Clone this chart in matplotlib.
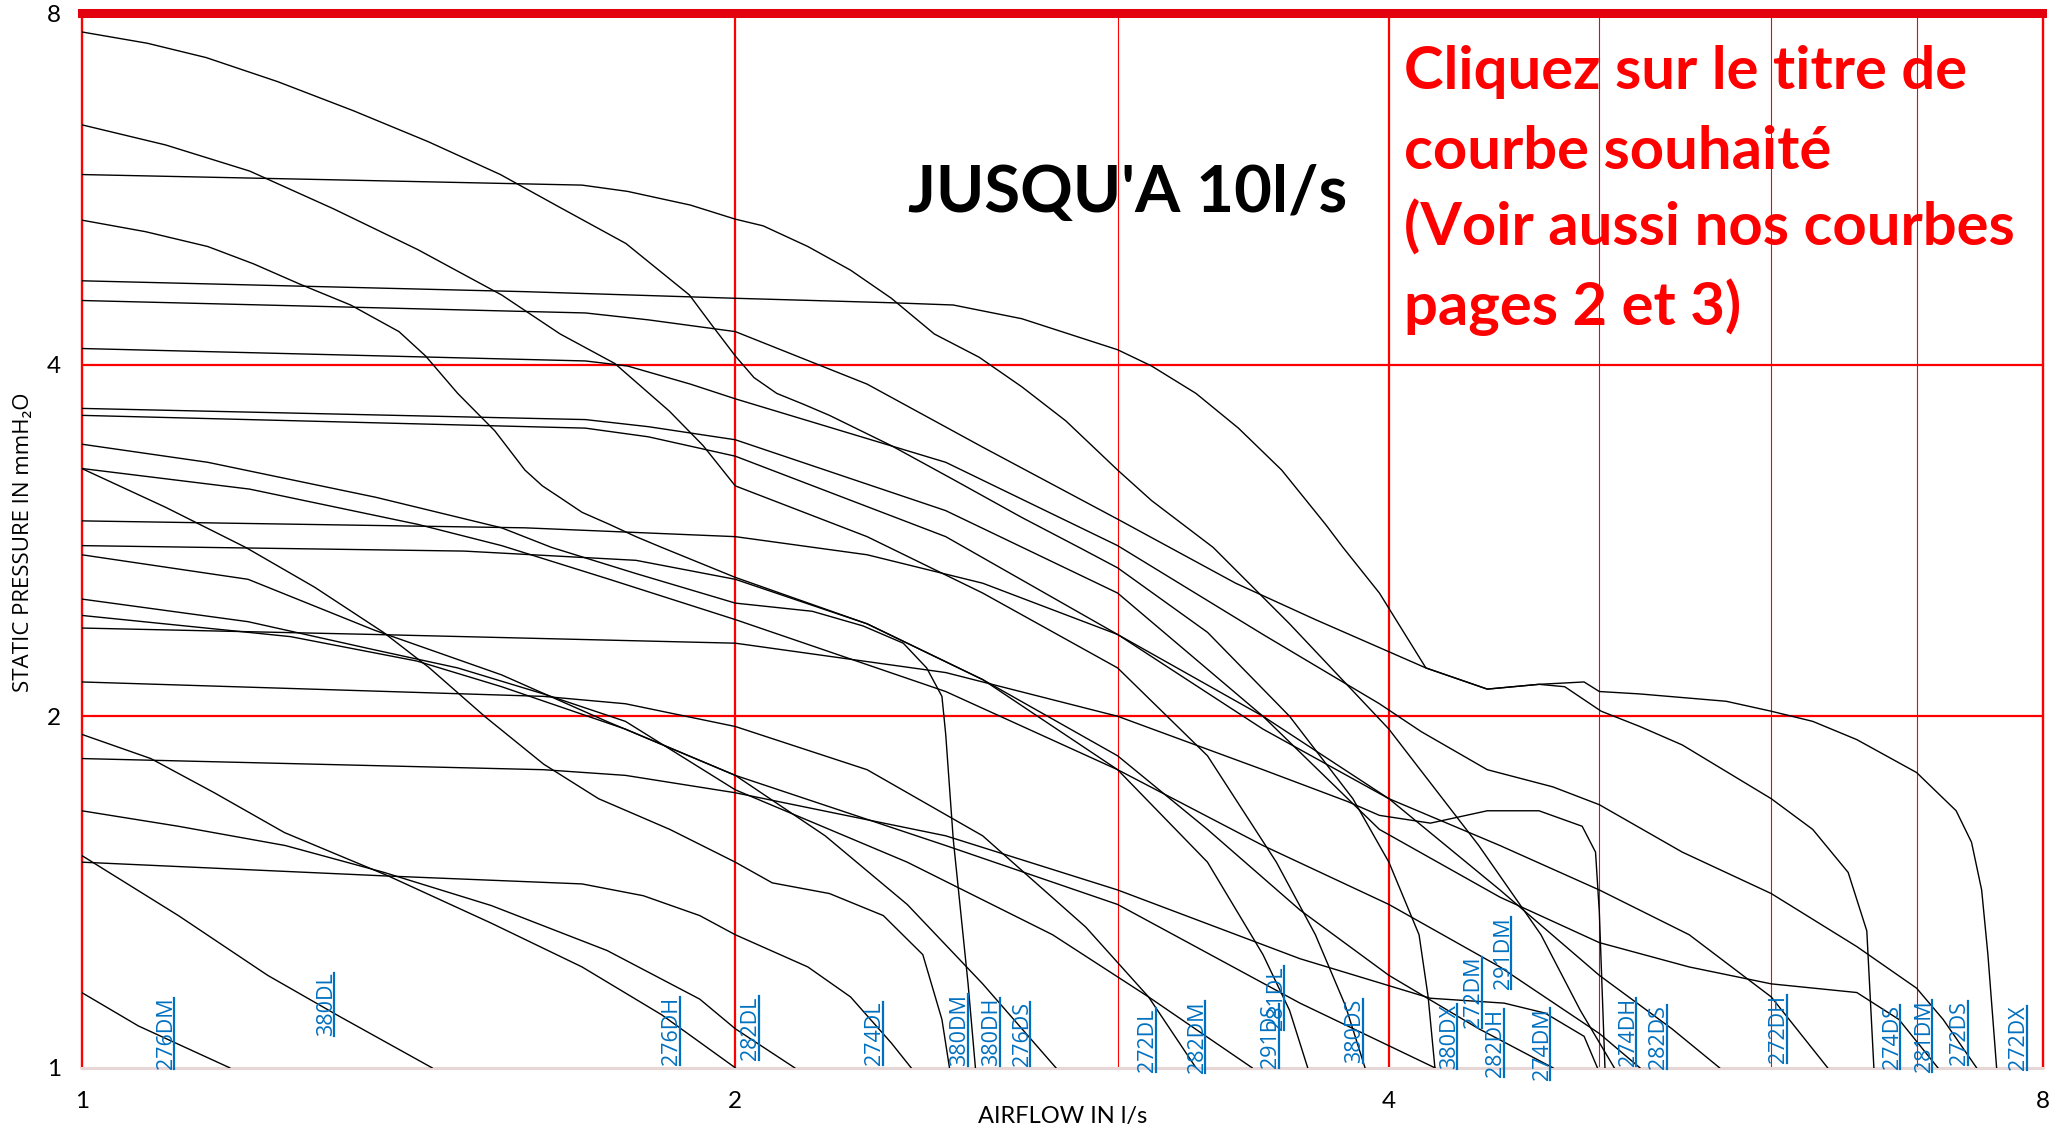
import matplotlib
matplotlib.use("Agg")
import matplotlib.pyplot as plt
from matplotlib.lines import Line2D
from matplotlib.transforms import IdentityTransform

# ------------------------------------------------------------------ data
# Each curve: airflow (l/s) and static pressure (mmH2O) points
x_276DM = [1.0, 1.062, 1.17]
y_276DM = [1.16, 1.086, 1.0]

x_380DL = [1.0, 1.108, 1.218, 1.314, 1.45]
y_380DL = [1.52, 1.35, 1.20, 1.107, 1.0]

x_276DH = [1.0, 1.076, 1.151, 1.24, 1.384, 1.544, 1.70, 1.85, 2.0]
y_276DH = [1.93, 1.84, 1.72, 1.59, 1.46, 1.33, 1.22, 1.11, 1.0]

x_282DL = [1.0, 1.108, 1.241, 1.378, 1.544, 1.746, 1.926, 2.0, 2.13]
y_282DL = [1.66, 1.61, 1.55, 1.47, 1.377, 1.26, 1.145, 1.08, 1.0]

x_274DL = [1.0, 1.378, 1.70, 1.814, 1.926, 2.0, 2.16, 2.26, 2.36, 2.41]
y_274DL = [1.50, 1.46, 1.437, 1.404, 1.35, 1.30, 1.22, 1.15, 1.05, 1.0]

x_380DM = [1.0, 1.093, 1.19, 1.28, 1.377, 1.446, 1.533, 1.632, 1.73, 1.866, 2.0, 2.08, 2.21, 2.34, 2.44, 2.49, 2.51]
y_380DM = [3.26, 3.02, 2.79, 2.58, 2.36, 2.20, 2.0, 1.82, 1.70, 1.60, 1.50, 1.44, 1.41, 1.35, 1.25, 1.10, 1.0]

x_380DH = [1.0, 1.143, 1.366, 1.561, 1.646, 1.80, 2.0, 2.17, 2.29, 2.39, 2.45, 2.49, 2.50, 2.52, 2.56, 2.58]
y_380DH = [3.42, 3.30, 3.08, 2.90, 2.79, 2.65, 2.50, 2.46, 2.39, 2.31, 2.20, 2.08, 1.93, 1.57, 1.18, 1.0]

x_276DS = [1.0, 1.248, 1.427, 1.561, 1.78, 2.0, 2.2, 2.4, 2.6, 2.81]
y_276DS = [2.44, 2.34, 2.23, 2.12, 1.95, 1.78, 1.58, 1.38, 1.18, 1.0]

x_272DL = [1.0, 1.632, 1.78, 2.0, 2.3, 2.6, 2.9, 3.1, 3.26]
y_272DL = [2.14, 2.08, 2.05, 1.96, 1.80, 1.58, 1.32, 1.15, 1.0]

x_282DM = [1.0, 1.193, 1.364, 1.49, 1.632, 1.78, 2.0, 2.4, 2.8, 3.1, 3.46]
y_282DM = [2.52, 2.41, 2.28, 2.20, 2.09, 1.98, 1.73, 1.50, 1.30, 1.15, 1.0]

x_291DS = [1.0, 1.07, 1.143, 1.20, 1.26, 1.33, 1.40, 1.44, 1.49, 1.55, 1.60, 1.63, 1.66, 1.70, 1.75, 1.80, 1.85, 2.0, 2.3, 2.6, 3.0, 3.3, 3.5, 3.6, 3.67]
y_291DS = [5.32, 5.20, 5.05, 4.88, 4.69, 4.50, 4.27, 4.07, 3.78, 3.51, 3.25, 3.15, 3.08, 2.99, 2.92, 2.85, 2.79, 2.63, 2.40, 2.15, 1.80, 1.50, 1.25, 1.12, 1.0]

x_281DL = [1.0, 1.706, 1.824, 2.0, 2.5, 3.0, 3.5, 4.0, 4.5, 5.0, 5.5, 6.0, 6.37]
y_281DL = [3.62, 3.53, 3.47, 3.34, 2.85, 2.35, 1.95, 1.70, 1.55, 1.42, 1.30, 1.15, 1.0]

x_380DS = [1.0, 1.093, 1.195, 1.306, 1.428, 1.561, 1.661, 1.76, 1.865, 1.933, 2.0, 2.3, 2.6, 3.0, 3.3, 3.55, 3.7, 3.82, 3.90]
y_380DS = [6.42, 6.17, 5.86, 5.44, 5.02, 4.59, 4.25, 4.01, 3.65, 3.41, 3.15, 2.85, 2.55, 2.20, 1.85, 1.50, 1.30, 1.13, 1.0]

x_380DX = [1.0, 1.072, 1.141, 1.231, 1.334, 1.444, 1.559, 1.659, 1.781, 1.905, 1.95, 2.0, 2.04, 2.09, 2.15, 2.21, 2.36, 2.52, 2.71, 2.88, 3.0, 3.3, 3.6, 3.85, 4.0, 4.13, 4.17, 4.20]
y_380DX = [7.71, 7.54, 7.33, 6.99, 6.60, 6.21, 5.82, 5.46, 5.08, 4.59, 4.33, 4.07, 3.90, 3.78, 3.70, 3.62, 3.41, 3.19, 2.96, 2.79, 2.68, 2.36, 2.0, 1.70, 1.50, 1.30, 1.15, 1.0]

x_272DM = [1.0, 1.632, 1.78, 2.0, 2.5, 3.0, 3.64, 4.18, 4.52, 4.72, 4.92, 4.99]
y_272DM = [1.84, 1.80, 1.78, 1.72, 1.58, 1.42, 1.24, 1.147, 1.136, 1.114, 1.064, 1.0]

x_282DH = [1.0, 1.193, 1.364, 1.561, 1.745, 2.0, 2.5, 3.0, 3.64, 4.2]
y_282DH = [2.75, 2.62, 2.37, 2.17, 1.98, 1.78, 1.55, 1.38, 1.136, 1.0]

x_291DM = [1.0, 1.306, 1.70, 1.784, 1.907, 2.0, 2.06, 2.16, 2.26, 2.36, 2.47, 2.59, 2.71, 2.84, 3.0, 3.11, 3.32, 3.6, 4.0, 4.4, 4.7, 4.9, 5.08]
y_291DM = [5.82, 5.76, 5.70, 5.63, 5.48, 5.33, 5.26, 5.05, 4.82, 4.56, 4.25, 4.06, 3.83, 3.58, 3.25, 3.06, 2.79, 2.40, 1.95, 1.55, 1.30, 1.12, 1.0]

x_274DM = [1.0, 1.5, 1.8, 2.0, 2.3, 2.6, 3.0, 3.3, 3.64, 4.0, 4.4, 4.76]
y_274DM = [2.80, 2.77, 2.72, 2.62, 2.40, 2.15, 1.85, 1.60, 1.365, 1.20, 1.08, 1.0]

x_274DH = [1.0, 1.364, 2.0, 2.5, 3.0, 3.5, 3.83, 3.96, 4.18, 4.44, 4.69, 4.91, 4.98, 5.0, 5.03]
y_274DH = [2.38, 2.35, 2.31, 2.18, 2.0, 1.80, 1.69, 1.645, 1.62, 1.66, 1.66, 1.61, 1.53, 1.36, 1.0]

x_282DS = [1.0, 1.195, 1.428, 1.561, 1.75, 2.0, 2.5, 3.0, 3.5, 4.0, 4.5, 5.0, 5.22]
y_282DS = [3.26, 3.13, 2.92, 2.80, 2.62, 2.42, 2.10, 1.80, 1.55, 1.38, 1.22, 1.07, 1.0]

x_272DH = [1.0, 1.6, 2.0, 2.3, 2.6, 3.0, 3.5, 4.0, 4.5, 5.0, 5.4, 5.68]
y_272DH = [2.94, 2.90, 2.85, 2.75, 2.60, 2.35, 2.0, 1.70, 1.42, 1.20, 1.08, 1.0]

x_274DS = [1.0, 1.706, 1.824, 2.0, 2.3, 2.6, 3.0, 3.4, 3.7, 3.96, 4.16, 4.44, 4.69, 4.82, 5.01, 5.22, 5.46, 6.0, 6.27, 6.51, 6.64, 6.69]
y_274DS = [4.54, 4.43, 4.37, 4.27, 3.85, 3.40, 2.95, 2.60, 2.42, 2.29, 2.20, 2.11, 2.13, 2.12, 2.02, 1.96, 1.89, 1.70, 1.60, 1.47, 1.31, 1.0]

x_281DM = [1.0, 1.706, 1.824, 2.0, 2.5, 3.0, 3.5, 3.96, 4.5, 5.0, 5.5, 6.0, 6.57, 6.87, 7.16]
y_281DM = [3.67, 3.59, 3.54, 3.45, 3.0, 2.55, 2.0, 1.60, 1.40, 1.28, 1.22, 1.18, 1.16, 1.10, 1.0]

x_272DS = [1.0, 1.706, 1.784, 1.907, 2.0, 2.5, 3.0, 3.5, 3.96, 4.14, 4.44, 4.76, 5.0, 5.46, 6.0, 6.57, 7.0, 7.2, 7.46]
y_272DS = [4.13, 4.03, 3.99, 3.85, 3.74, 3.30, 2.80, 2.35, 2.05, 1.94, 1.80, 1.74, 1.68, 1.53, 1.41, 1.27, 1.17, 1.10, 1.0]

x_272DX = [1.0, 1.6, 2.0, 2.36, 2.52, 2.71, 3.0, 3.11, 3.26, 3.41, 3.57, 3.74, 3.81, 3.96, 4.16, 4.44, 4.69, 4.92, 5.0, 5.22, 5.72, 6.0, 6.27, 6.57, 7.0, 7.30, 7.42, 7.50, 7.55, 7.62]
y_272DX = [4.72, 4.62, 4.56, 4.52, 4.50, 4.38, 4.12, 3.99, 3.78, 3.53, 3.25, 2.92, 2.79, 2.55, 2.20, 2.11, 2.13, 2.14, 2.10, 2.09, 2.06, 2.02, 1.98, 1.91, 1.79, 1.66, 1.56, 1.42, 1.25, 1.0]

curve_x = [x_276DM, x_380DL, x_276DH, x_282DL, x_274DL, x_380DM, x_380DH, x_276DS,
           x_272DL, x_282DM, x_291DS, x_281DL, x_380DS, x_380DX, x_272DM, x_282DH,
           x_291DM, x_274DM, x_274DH, x_282DS, x_272DH, x_274DS, x_281DM, x_272DS, x_272DX]
curve_y = [y_276DM, y_380DL, y_276DH, y_282DL, y_274DL, y_380DM, y_380DH, y_276DS,
           y_272DL, y_282DM, y_291DS, y_281DL, y_380DS, y_380DX, y_272DM, y_282DH,
           y_291DM, y_274DM, y_274DH, y_282DS, y_272DH, y_274DS, y_281DM, y_272DS, y_272DX]

label_names = ['276DM', '380DL', '276DH', '282DL', '274DL', '380DM', '380DH', '276DS',
               '272DL', '282DM', '291DS', '281DL', '380DS', '380DX', '272DM', '282DH',
               '291DM', '274DM', '274DH', '282DS', '272DH', '274DS', '281DM', '272DS', '272DX']
label_x = [1.094, 1.296, 1.870, 2.033, 2.319, 2.537, 2.625, 2.711,
           3.098, 3.264, 3.529, 3.549, 3.859, 4.265, 4.377, 4.481,
           4.516, 4.707, 5.155, 5.326, 6.048, 6.822, 7.056, 7.329, 7.799]
label_y = [0.997, 1.064, 1.005, 1.016, 1.005, 1.003, 1.003, 1.003,
           0.992, 0.990, 1.0, 1.078, 1.010, 0.997, 1.081, 0.982,
           1.169, 0.977, 1.003, 0.997, 1.010, 0.997, 0.992, 1.005, 0.995]

x_ticks = [1, 2, 4, 8]
y_ticks = [1, 2, 4, 8]
x_major_grid = [2, 4]
x_minor_grid = [3, 5, 6, 7]
y_major_grid = [2, 4]

title_text = "JUSQU'A 10l/s"
note_lines = ["Cliquez sur le titre de", "courbe souhaité",
              "(Voir aussi nos courbes", "pages 2 et 3)"]

# ------------------------------------------------------------------ figure
W, H = 2067, 1131
fig = plt.figure(figsize=(W / 100, H / 100), dpi=100)
ax = fig.add_axes([81.7 / W, 1 - 1067.8 / H, (2042.5 - 81.7) / W, (1067.8 - 13.2) / H])
ax.set_xscale('log', base=2)
ax.set_yscale('log', base=2)
ax.set_xlim(1, 8)
ax.set_ylim(1, 8)

RED = '#FF0000'
for xv in x_minor_grid:
    ax.axvline(xv, color=RED, lw=0.8, zorder=1)
for xv in x_major_grid:
    ax.axvline(xv, color=RED, lw=1.6, zorder=1)
for yv in y_major_grid:
    ax.axhline(yv, color=RED, lw=1.6, zorder=1)

for s in ['left', 'right']:
    ax.spines[s].set_color(RED)
    ax.spines[s].set_linewidth(1.7)
ax.spines['top'].set_color('#E3000F')
ax.spines['top'].set_linewidth(6.5)
ax.spines['bottom'].set_color('#E6D6D6')
ax.spines['bottom'].set_linewidth(2.2)

for xs, ys in zip(curve_x, curve_y):
    ax.plot(xs, ys, color='black', lw=1.0, zorder=3, solid_joinstyle='round')

ax.minorticks_off()
ax.set_xticks(x_ticks)
ax.set_xticklabels([str(v) for v in x_ticks])
ax.set_yticks(y_ticks)
ax.set_yticklabels([str(v) for v in y_ticks])
ax.tick_params(axis='both', which='both', length=0, labelsize=17.5)
ax.tick_params(axis='x', pad=17)
ax.tick_params(axis='y', pad=15)
for lab in ax.get_xticklabels() + ax.get_yticklabels():
    lab.set_fontfamily(['Lato', 'DejaVu Sans'])

fig.text(1062.5 / W, 1 - 1117 / H, 'AIRFLOW IN l/s', ha='center', va='center',
         fontsize=17, family=['Lato', 'DejaVu Sans'])
fig.text(23.4 / W, 1 - 542 / H, 'STATIC PRESSURE IN mmH\u2082O', ha='center', va='center',
         rotation=90, fontsize=16, family=['Open Sans', 'DejaVu Sans'])

fig.text(1127.6 / W, 1 - 211.7 / H, title_text, ha='center', va='baseline',
         fontsize=47, fontweight='bold', family=['Lato', 'DejaVu Sans'])
note_baselines = [89.3, 168.6, 246.0, 324.5]
for line, yb in zip(note_lines, note_baselines):
    fig.text(1403.8 / W, 1 - yb / H, line, ha='left', va='baseline', color=RED,
             fontsize=43, fontweight='bold', family=['Lato', 'DejaVu Sans'])

BLUE = '#0070C0'
label_artists = []
for name, lx, ly in zip(label_names, label_x, label_y):
    t = ax.text(lx, ly, name, rotation=90, ha='center', va='bottom', color=BLUE,
                fontsize=15.5, family=['Open Sans', 'DejaVu Sans'], zorder=5, clip_on=False)
    label_artists.append(t)

fig.canvas.draw()
renderer = fig.canvas.get_renderer()
for t in label_artists:
    bb = t.get_window_extent(renderer)
    xu = bb.x1 - 2.5
    fig.add_artist(Line2D([xu, xu], [bb.y0, bb.y1], transform=IdentityTransform(),
                          color=BLUE, lw=1.6, zorder=6))

fig.savefig('out.png', dpi=100)
